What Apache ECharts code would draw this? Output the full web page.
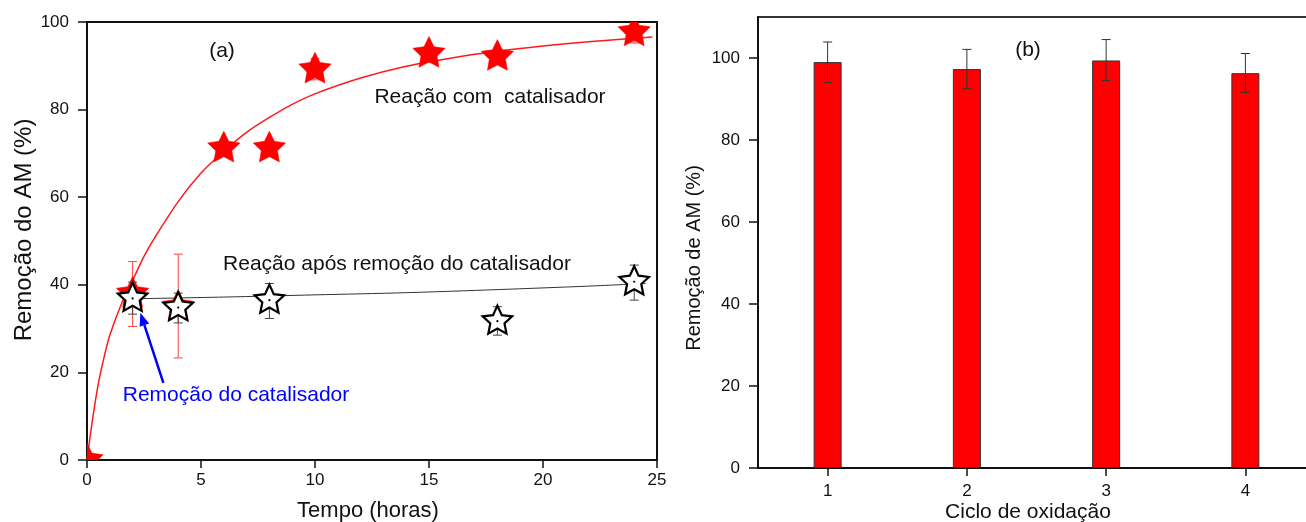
<!DOCTYPE html>
<html>
<head>
<meta charset="utf-8">
<style>
  html, body { margin: 0; padding: 0; background: #fff; overflow: hidden; }
  /* the (b) panel runs slightly past the right edge of the page */
  #chart { width: 1330px; height: 522px; }
</style>
<script src="https://cdn.jsdelivr.net/npm/echarts@6/dist/echarts.min.js"></script>
</head>
<body>
<div id="chart"></div>
<script>
// (a) removal over time, with catalyst kept in the reactor
const timeWith = [0, 2, 4, 6, 8, 10, 15, 18, 24];
const removalWith = [0, 38, 35, 71.2, 71.2, 89.2, 92.8, 92.1, 97.7];
// error bars for the catalysed reaction (only where they stick out of the marker)
const errWithX = [2, 4, 10, 24];
const errWithLow = [30.5, 23.3, 86.8, 95.2];
const errWithHigh = [45.3, 47, 91.7, 99.5];
// fitted curve, catalysed reaction
const fitWithX = [0, 0.25, 0.5, 0.75, 1, 1.5, 2, 2.5, 3, 4, 5, 6, 7, 8, 9, 10, 12, 14, 16, 18, 20, 22, 24, 24.8];
const fitWithY = [0, 9.5, 17.5, 23.5, 28.5, 35.5, 41, 46.5, 51, 59, 65.5, 70.5, 74.8, 78.2, 81.2, 83.6, 87.2, 89.9, 91.8, 93.3, 94.5, 95.5, 96.3, 96.6];

// (a) removal after the catalyst was taken out
const timeAfter = [2, 4, 8, 18, 24];
const removalAfter = [36.9, 34.8, 36.5, 31.7, 40.7];
const errAfterLow = [33.3, 31.3, 32.3, 28.5, 36.5];
const errAfterHigh = [40.6, 38.1, 40.3, 35, 44.5];
const fitAfterX = [2, 6, 10, 14, 18, 22, 24.5];
const fitAfterY = [36.8, 37.2, 37.7, 38.2, 38.9, 39.7, 40.3];

// arrow pointing at the moment the catalyst is removed (data coordinates)
const arrowFrom = [3.35, 17.6];
const arrowTo = [2.34, 33.6];

// (b) reuse cycles
const cycles = ['1', '2', '3', '4'];
const cycleRemoval = [99, 97.3, 99.4, 96.3];
const cycleLow = [94, 92.5, 94.5, 91.6];
const cycleHigh = [103.9, 102.1, 104.5, 101.1];

const yTicksA = [0, 20, 40, 60, 80, 100];
const yTicksB = [0, 20, 40, 60, 80, 100];

const FONT = '"Liberation Sans", Arial, Helvetica, sans-serif';

function starPoints(cx, cy, R, ratio) {
  const pts = [];
  for (let i = 0; i < 10; i++) {
    const a = -Math.PI / 2 + i * Math.PI / 5;
    const r = i % 2 ? R * ratio : R;
    pts.push([cx + r * Math.cos(a), cy + r * Math.sin(a)]);
  }
  return pts;
}

function errorBarRenderer(color, cap) {
  return function (params, api) {
    const x = api.value(0);
    const lo = api.coord([x, api.value(1)]);
    const hi = api.coord([x, api.value(2)]);
    const style = { stroke: color, lineWidth: 1 };
    return {
      type: 'group',
      children: [
        { type: 'line', shape: { x1: lo[0], y1: lo[1], x2: hi[0], y2: hi[1] }, style },
        { type: 'line', shape: { x1: lo[0] - cap, y1: lo[1], x2: lo[0] + cap, y2: lo[1] }, style },
        { type: 'line', shape: { x1: hi[0] - cap, y1: hi[1], x2: hi[0] + cap, y2: hi[1] }, style }
      ]
    };
  };
}

const chart = echarts.init(document.getElementById('chart'), null, { renderer: 'canvas' });

const axisLabelStyle = { color: '#111', fontFamily: FONT, fontSize: 17 };

chart.setOption({
  animation: false,
  backgroundColor: '#fff',
  grid: [
    { left: 87, top: 22, width: 570, height: 438, show: true, borderColor: '#111', borderWidth: 2, containLabel: false },
    { left: 758, top: 17, width: 557, height: 451, show: true, borderColor: '#333', borderWidth: 2, containLabel: false }
  ],
  xAxis: [
    {
      type: 'value', gridIndex: 0, min: 0, max: 25, interval: 5,
      axisLine: { show: true, onZero: false, lineStyle: { color: '#111', width: 2 } },
      axisTick: { show: true, inside: false, length: 8, lineStyle: { color: '#111', width: 1.5 } },
      axisLabel: Object.assign({ margin: 12 }, axisLabelStyle),
      splitLine: { show: false }
    },
    {
      type: 'category', gridIndex: 1, data: cycles, boundaryGap: true,
      axisLine: { show: true, onZero: false, lineStyle: { color: '#111', width: 2 } },
      axisTick: { show: true, inside: false, alignWithLabel: true, length: 8, lineStyle: { color: '#111', width: 1.5 } },
      axisLabel: Object.assign({ margin: 15 }, axisLabelStyle),
      splitLine: { show: false }
    }
  ],
  yAxis: [
    {
      type: 'value', gridIndex: 0, min: 0, max: 100, interval: 20,
      axisLine: { show: true, onZero: false, lineStyle: { color: '#111', width: 2 } },
      axisTick: { show: true, inside: false, length: 9, lineStyle: { color: '#111', width: 1.5 } },
      axisLabel: Object.assign({ margin: 18, customValues: yTicksA }, axisLabelStyle),
      splitLine: { show: false }
    },
    {
      type: 'value', gridIndex: 1, min: 0, max: 110, interval: 20,
      axisLine: { show: true, onZero: false, lineStyle: { color: '#111', width: 2 } },
      axisTick: { show: true, inside: false, length: 9, customValues: yTicksB, lineStyle: { color: '#111', width: 1.5 } },
      axisLabel: Object.assign({ margin: 18, customValues: yTicksB }, axisLabelStyle),
      splitLine: { show: false }
    }
  ],
  series: [
    {
      name: 'Ajuste com catalisador', type: 'line', xAxisIndex: 0, yAxisIndex: 0,
      data: fitWithX.map((x, i) => [x, fitWithY[i]]),
      smooth: 0.3, symbol: 'none', clip: true,
      lineStyle: { color: '#ff1a1a', width: 1.5 }, z: 2
    },
    {
      name: 'Erro com catalisador', type: 'custom', xAxisIndex: 0, yAxisIndex: 0,
      data: errWithX.map((x, i) => [x, errWithLow[i], errWithHigh[i]]),
      encode: { x: 0, y: [1, 2] },
      renderItem: errorBarRenderer('#ff4040', 4.5), z: 3
    },
    {
      name: 'Reação com catalisador', type: 'custom', xAxisIndex: 0, yAxisIndex: 0,
      data: timeWith.map((x, i) => [x, removalWith[i]]),
      encode: { x: 0, y: 1 }, clip: true,
      renderItem: function (params, api) {
        const p = api.coord([api.value(0), api.value(1)]);
        return {
          type: 'polygon',
          shape: { points: starPoints(p[0], p[1], 17, 0.5) },
          style: { fill: '#ff0000', stroke: '#ff0000', lineWidth: 0.5 }
        };
      },
      z: 4
    },
    {
      name: 'Ajuste após remoção', type: 'line', xAxisIndex: 0, yAxisIndex: 0,
      data: fitAfterX.map((x, i) => [x, fitAfterY[i]]),
      smooth: 0.3, symbol: 'none',
      lineStyle: { color: '#333', width: 1 }, z: 5
    },
    {
      name: 'Erro após remoção', type: 'custom', xAxisIndex: 0, yAxisIndex: 0,
      data: timeAfter.map((x, i) => [x, errAfterLow[i], errAfterHigh[i]]),
      encode: { x: 0, y: [1, 2] },
      renderItem: errorBarRenderer('#444', 4.5), z: 6
    },
    {
      name: 'Reação após remoção', type: 'custom', xAxisIndex: 0, yAxisIndex: 0,
      data: timeAfter.map((x, i) => [x, removalAfter[i]]),
      encode: { x: 0, y: 1 }, clip: true,
      renderItem: function (params, api) {
        const p = api.coord([api.value(0), api.value(1)]);
        return {
          type: 'group',
          children: [
            {
              type: 'polygon',
              shape: { points: starPoints(p[0], p[1], 15.5, 0.48) },
              style: { fill: '#fff', stroke: '#000', lineWidth: 2.2, lineJoin: 'miter' }
            },
            { type: 'circle', shape: { cx: p[0], cy: p[1], r: 1.1 }, style: { fill: '#000' } }
          ]
        };
      },
      z: 7
    },
    {
      name: 'Seta', type: 'custom', xAxisIndex: 0, yAxisIndex: 0,
      data: [[arrowFrom[0], arrowFrom[1], arrowTo[0], arrowTo[1]]],
      encode: { x: [0, 2], y: [1, 3] },
      renderItem: function (params, api) {
        const a = api.coord([api.value(0), api.value(1)]);
        const b = api.coord([api.value(2), api.value(3)]);
        const dx = b[0] - a[0], dy = b[1] - a[1];
        const len = Math.sqrt(dx * dx + dy * dy);
        const ux = dx / len, uy = dy / len;
        const headL = 13, headW = 5;
        const base = [b[0] - ux * headL, b[1] - uy * headL];
        return {
          type: 'group',
          children: [
            { type: 'line', shape: { x1: a[0], y1: a[1], x2: base[0], y2: base[1] }, style: { stroke: '#0000ff', lineWidth: 2.5 } },
            {
              type: 'polygon',
              shape: { points: [[b[0], b[1]], [base[0] - uy * headW, base[1] + ux * headW], [base[0] + uy * headW, base[1] - ux * headW]] },
              style: { fill: '#0000ff' }
            }
          ]
        };
      },
      z: 8
    },
    {
      name: 'Remoção de AM', type: 'bar', xAxisIndex: 1, yAxisIndex: 1,
      data: cycleRemoval, barWidth: 28,
      itemStyle: { color: '#ff0000', borderColor: '#333', borderWidth: 1 }, z: 2
    },
    {
      name: 'Erro ciclos', type: 'custom', xAxisIndex: 1, yAxisIndex: 1,
      data: cycles.map((c, i) => [i, cycleLow[i], cycleHigh[i]]),
      encode: { x: 0, y: [1, 2] },
      renderItem: errorBarRenderer('#333', 4.5), z: 3
    }
  ],
  graphic: [
    { type: 'text', x: 222, y: 51, style: { text: '(a)', font: '21px ' + FONT, fill: '#111', align: 'center', verticalAlign: 'middle' } },
    { type: 'text', x: 490, y: 97, style: { text: 'Reação com  catalisador', font: '21px ' + FONT, fill: '#111', align: 'center', verticalAlign: 'middle' } },
    { type: 'text', x: 397, y: 264, style: { text: 'Reação após remoção do catalisador', font: '21px ' + FONT, fill: '#111', align: 'center', verticalAlign: 'middle' } },
    { type: 'text', x: 236, y: 395, style: { text: 'Remoção do catalisador', font: '21px ' + FONT, fill: '#0000ff', align: 'center', verticalAlign: 'middle' } },
    { type: 'text', x: 368, y: 511, style: { text: 'Tempo (horas)', font: '22px ' + FONT, fill: '#111', align: 'center', verticalAlign: 'middle' } },
    { type: 'text', x: 24, y: 230, rotation: Math.PI / 2, style: { text: 'Remoção do AM (%)', font: '24px ' + FONT, fill: '#111', align: 'center', verticalAlign: 'middle' } },
    { type: 'text', x: 1028, y: 50, style: { text: '(b)', font: '21px ' + FONT, fill: '#111', align: 'center', verticalAlign: 'middle' } },
    { type: 'text', x: 1028, y: 512, style: { text: 'Ciclo de oxidação', font: '21px ' + FONT, fill: '#111', align: 'center', verticalAlign: 'middle' } },
    { type: 'text', x: 694, y: 258, rotation: Math.PI / 2, style: { text: 'Remoção de AM (%)', font: '20px ' + FONT, fill: '#111', align: 'center', verticalAlign: 'middle' } }
  ]
});
</script>
</body>
</html>
